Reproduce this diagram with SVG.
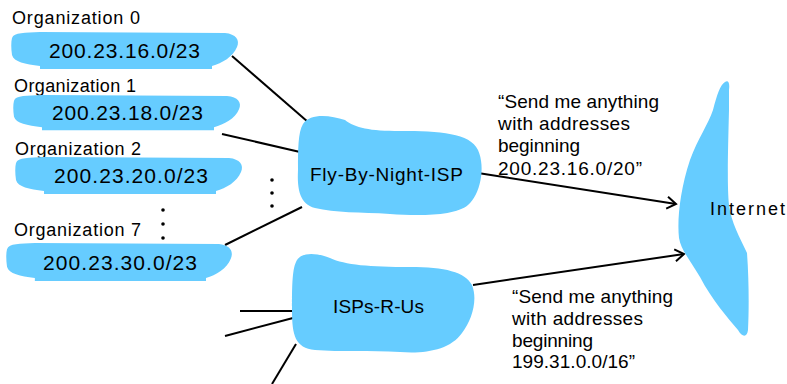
<svg xmlns="http://www.w3.org/2000/svg" width="787" height="384" viewBox="0 0 787 384">
<style>
.blob{fill:#66CCFF;stroke:none}
.lbl{font-family:"Liberation Sans",Arial,sans-serif;font-size:18px;fill:#000}
.addr{font-family:"Liberation Sans",Arial,sans-serif;font-size:21px;fill:#000}
.isp{font-family:"Liberation Sans",Arial,sans-serif;font-size:19px;fill:#000}
.note{font-family:"Liberation Sans",Arial,sans-serif;font-size:19px;fill:#000}
.ln{stroke:#000;stroke-width:2;fill:none}
.dot{fill:#000}
</style>
<defs>
<path id="orgblob" d="M 0,6 C 2,0 13,1 28,0 L 213,1 C 224,2 228,8 225,15 C 221,25 210,31 200,34 L 200,37 L 28,37 L 28,34 C 13,32 2,30 0,23 C -1,16 -1,10 0,6 Z"/>
<marker id="arr" markerUnits="userSpaceOnUse" markerWidth="14" markerHeight="14" refX="11" refY="7" orient="auto">
<path d="M 2,1 L 11,7 L 2,13" fill="none" stroke="#000" stroke-width="2"/>
</marker>
</defs>
<g id="connectors">
<line class="ln" x1="232" y1="56" x2="308" y2="122"/>
<line class="ln" x1="222" y1="134" x2="300" y2="152"/>
<line class="ln" x1="225" y1="245" x2="302" y2="207"/>
<line class="ln" x1="240" y1="311" x2="293" y2="311"/>
<line class="ln" x1="225" y1="336" x2="293" y2="318"/>
<line class="ln" x1="272" y1="384" x2="296" y2="344"/>
<line class="ln" x1="478" y1="173" x2="676" y2="204" marker-end="url(#arr)"/>
<line class="ln" x1="473" y1="285" x2="684" y2="254" marker-end="url(#arr)"/>
</g>
<g id="org0">
<text class="lbl" x="12" y="24" textLength="128">Organization 0</text>
<use href="#orgblob" class="blob" transform="translate(12,32)"/>
<text class="addr" x="49" y="58" textLength="151">200.23.16.0/23</text>
</g>
<g id="org1">
<text class="lbl" x="14" y="92" textLength="122">Organization 1</text>
<use href="#orgblob" class="blob" transform="translate(14,95) scale(1,0.95)"/>
<text class="addr" x="52" y="120" textLength="151">200.23.18.0/23</text>
</g>
<g id="org2">
<text class="lbl" x="15" y="155" textLength="126">Organization 2</text>
<use href="#orgblob" class="blob" transform="translate(16,157)"/>
<text class="addr" x="54" y="183" textLength="154">200.23.20.0/23</text>
</g>
<g id="dots1">
<circle class="dot" cx="272" cy="180" r="1.8"/>
<circle class="dot" cx="272" cy="193" r="1.8"/>
<circle class="dot" cx="272" cy="206" r="1.8"/>
</g>
<g id="dots2">
<circle class="dot" cx="163" cy="210" r="1.8"/>
<circle class="dot" cx="163" cy="224" r="1.8"/>
<circle class="dot" cx="163" cy="238" r="1.8"/>
</g>
<g id="org7">
<text class="lbl" x="14" y="236" textLength="127">Organization 7</text>
<use href="#orgblob" class="blob" transform="translate(7,243) scale(0.995,1.03)"/>
<text class="addr" x="43" y="270" textLength="154">200.23.30.0/23</text>
</g>
<g id="flybynight">
<path class="blob" d="M 303,124 C 310,113 330,115 345,120 C 355,128 370,131 400,131 C 440,131 470,133 478,150 C 486,168 480,195 468,205 C 455,216 420,216 390,214 C 360,212 335,213 315,208 C 300,204 297,190 298,170 C 298,150 298,132 303,124 Z"/>
<text class="isp" x="310" y="181" textLength="153">Fly-By-Night-ISP</text>
</g>
<g id="ispsrus">
<path class="blob" d="M 296,262 C 300,252 315,252 330,258 C 345,265 370,267 410,267 C 445,267 465,272 472,285 C 478,300 472,320 462,333 C 450,350 425,354 400,352 C 370,350 340,352 315,350 C 295,348 292,335 292,310 C 292,290 292,270 296,262 Z"/>
<text class="isp" x="333" y="313" textLength="91">ISPs-R-Us</text>
</g>
<g id="internet">
<path class="blob" d="M 725,82 C 728,80 730,82 729,90 L 729,110 C 728,150 727,185 729,205 C 731,222 740,238 747,253 C 749,280 749,310 748,330 C 747,338 742,337 738,330 C 728,318 712,300 700,277 C 690,260 681,250 679,238 C 677,220 680,190 690,160 C 698,138 708,125 713,110 C 717,95 720,85 725,82 Z"/>
<text class="lbl" x="710" y="215" textLength="75">Internet</text>
</g>
<g id="note1">
<text class="note" x="498" y="108" textLength="161">“Send me anything</text>
<text class="note" x="498" y="130" textLength="132">with addresses</text>
<text class="note" x="498" y="152" textLength="82">beginning</text>
<text class="note" x="498" y="175" textLength="144">200.23.16.0/20”</text>
</g>
<g id="note2">
<text class="note" x="512" y="303" textLength="161">“Send me anything</text>
<text class="note" x="512" y="325" textLength="131">with addresses</text>
<text class="note" x="512" y="347" textLength="81">beginning</text>
<text class="note" x="512" y="368" textLength="123">199.31.0.0/16”</text>
</g>
</svg>
